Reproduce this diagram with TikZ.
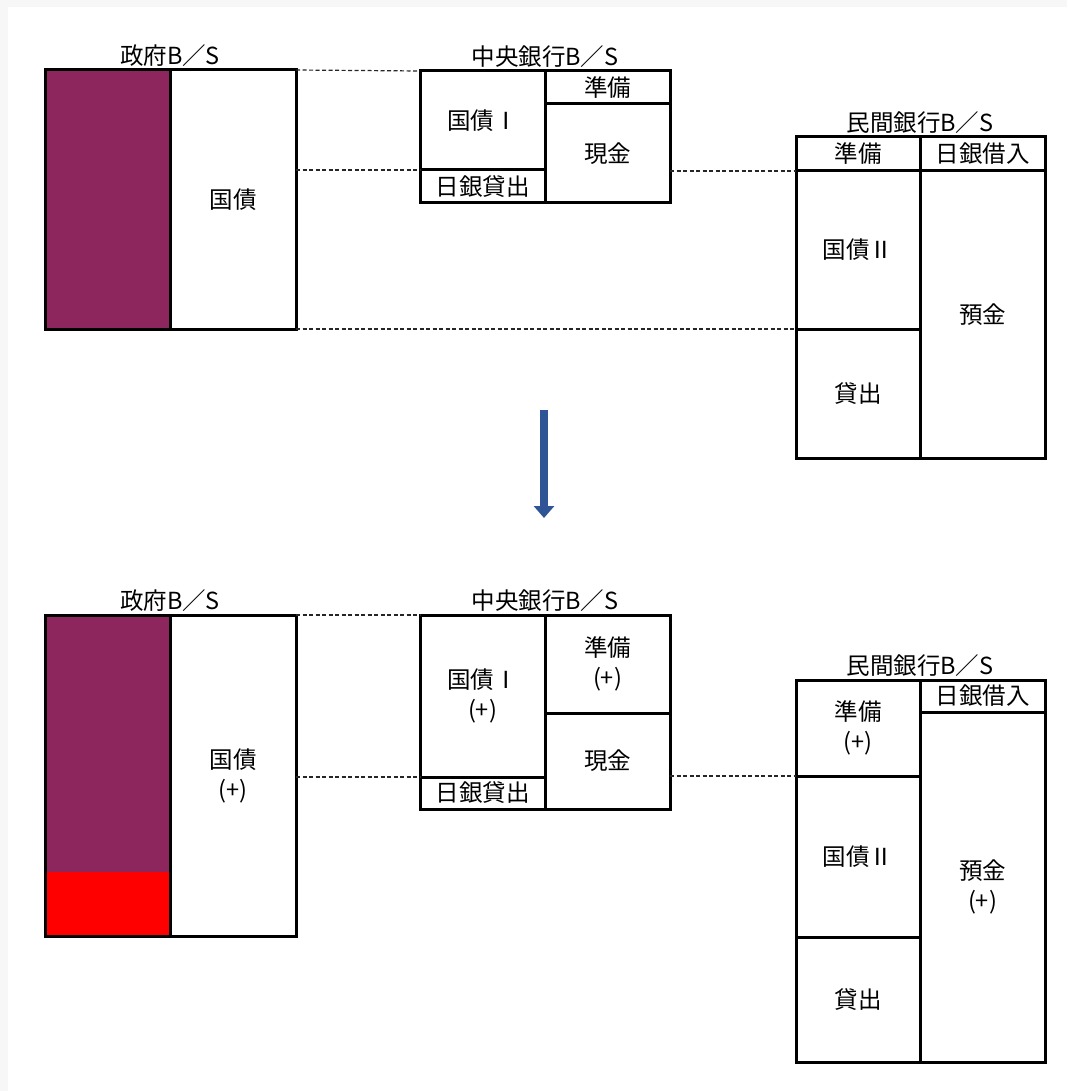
\documentclass[tikz,border=0pt]{standalone}
\usepackage{fontspec}
\newfontfamily\jp{Noto Sans CJK JP}
\usetikzlibrary{arrows.meta}
\definecolor{govpurple}{RGB}{142,38,94}
\definecolor{arrowblue}{RGB}{47,85,151}
\begin{document}
\begin{tikzpicture}[x=1pt,y=-1pt,
  cell/.style={draw, line width=3pt, inner sep=0pt, outer sep=0pt, align=center,
    font=\jp\fontsize{23.5}{30}\selectfont, anchor=north west},
  box/.style n args={4}{cell, minimum width={(#3-#1)*1pt}, minimum height={(#4-#2)*1pt}, at={(#1,#2)}},
  title/.style={font=\jp\fontsize{23.5}{26}\selectfont, inner sep=0pt},
  conn/.style={line width=1.2pt, dash pattern=on 4pt off 2.5pt, black!85},
  bigarrow/.style={-{Triangle[width=20pt,length=12pt]}, line width=8pt, arrowblue}]
\useasboundingbox (0,0) rectangle (1067,1091);
\fill[white] (0,0) rectangle (1067,1091);
\fill[gray!6] (0,0) rectangle (1067,7);
\fill[gray!6] (0,0) rectangle (8,1091);

% ---------- top: government ----------
\node[box={45}{70}{170}{329}, fill=govpurple] (gA1) {};
\node[box={170}{70}{296}{329}] (gA2) {国債};
\node[title] (gAt) at ([yshift=14pt]gA1.north east) {政府B／S};

% ---------- top: central bank ----------
\node[box={420}{71}{545}{170}] (cA1) {国債Ⅰ};
\node[box={420}{170}{545}{203}] (cA2) {日銀貸出};
\node[box={545}{71}{670}{104}] (cA3) {準備};
\node[box={545}{104}{670}{203}] (cA4) {現金};
\node[title] (cAt) at ([yshift=14pt]cA1.north east) {中央銀行B／S};

% ---------- top: private bank ----------
\node[box={796}{137}{920}{171}] (pA1) {準備};
\node[box={796}{171}{920}{329}] (pA2) {国債Ⅱ};
\node[box={796}{329}{920}{458}] (pA3) {貸出};
\node[box={920}{137}{1045}{171}] (pA4) {日銀借入};
\node[box={920}{171}{1045}{458}] (pA5) {預金};
\node[title] (pAt) at ([yshift=14pt]pA1.north east) {民間銀行B／S};

% dashed connectors (top)
\draw[conn] (gA2.north east) -- (cA1.north west);
\draw[conn] (gA2.east |- cA1.south west) -- (cA1.south west);
\draw[conn] (cA4.east |- pA1.south west) -- (pA1.south west);
\draw[conn] (gA2.south east) -- (pA2.south west);

% arrow
\coordinate (arrS) at (544,410);
\coordinate (arrE) at (544,518);
\draw[bigarrow] (arrS) -- (arrE);

% ---------- bottom: government ----------
\node[box={45}{615}{170}{936}, fill=govpurple,
  path picture={\fill[red] (path picture bounding box.south west) rectangle ([yshift=64pt]path picture bounding box.south east);}] (gB1) {};
\node[box={170}{615}{296}{936}] (gB2) {国債\\(+)};
\node[title] (gBt) at ([yshift=14pt]gB1.north east) {政府B／S};

% ---------- bottom: central bank ----------
\node[box={420}{615}{545}{777}] (cB1) {国債Ⅰ\\(+)};
\node[box={420}{777}{545}{809}] (cB2) {日銀貸出};
\node[box={545}{615}{670}{713}] (cB3) {準備\\(+)};
\node[box={545}{713}{670}{809}] (cB4) {現金};
\node[title] (cBt) at ([yshift=14pt]cB1.north east) {中央銀行B／S};

% ---------- bottom: private bank ----------
\node[box={796}{680}{920}{776}] (pB1) {準備\\(+)};
\node[box={796}{776}{920}{937}] (pB2) {国債Ⅱ};
\node[box={796}{937}{920}{1062}] (pB3) {貸出};
\node[box={920}{680}{1045}{712}] (pB4) {日銀借入};
\node[box={920}{712}{1045}{1062}] (pB5) {預金\\(+)};
\node[title] (pBt) at ([yshift=14pt]pB1.north east) {民間銀行B／S};

% dashed connectors (bottom)
\draw[conn] (gB2.north east) -- (cB1.north west);
\draw[conn] (gB2.east |- cB1.south west) -- (cB1.south west);
\draw[conn] (cB4.east |- pB1.south west) -- (pB1.south west);
\end{tikzpicture}
\end{document}
